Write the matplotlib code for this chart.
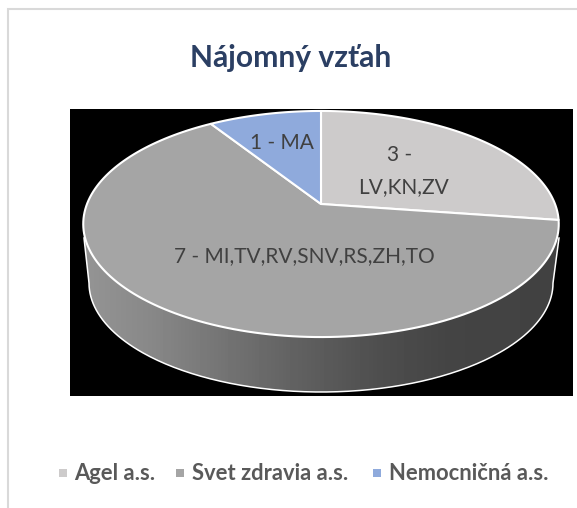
import numpy as np
import matplotlib.pyplot as plt
from matplotlib.patches import Polygon, Rectangle

plt.rcParams['font.family'] = ['Lato', 'DejaVu Sans']

title = 'Nájomný vzťah'
companies = ['Agel a.s.', 'Svet zdravia a.s.', 'Nemocničná a.s.']
counts = [3, 7, 1]
colors = ['#cdcbcb', '#a5a5a5', '#8faadc']
GREY_TEXT = '#404040'
LEGEND_TEXT = '#595959'


def project(angle):
    # tilted disc: angle runs clockwise from the top, result is in pixels
    x = np.sin(angle)
    y = np.cos(angle)
    w = 1 + 0.177 * y
    return 321 + 234 * x / w, (204 - 73.4 * y) / w


fig = plt.figure(figsize=(5.77, 5.08), dpi=100)
ax = fig.add_axes([0, 0, 1, 1])
ax.set_xlim(0, 577)
ax.set_ylim(508, 0)
ax.axis('off')

# chart frame, only the top and left edges are in the crop
ax.plot([577, 8, 8], [9, 9, 508], color='#d9d9d9', lw=1.5, solid_joinstyle='miter')
ax.add_patch(Rectangle((70, 109), 503, 287, color='black', lw=0))

# side wall with its left to right shading
t = np.linspace(-np.pi / 2, np.pi / 2, 200)
low_x = 321 + 232 * np.sin(t)
low_y = 283 + 109 * np.cos(t)
wall_x = np.concatenate([[84], low_x, [559]])
wall_y = np.concatenate([[238], low_y, [238]])
wall = Polygon(np.column_stack([wall_x, wall_y]), closed=True, color='none')
ax.add_patch(wall)
stops_x = [85, 150, 230, 300, 380, 450, 560]
stops_v = [0x94, 0x88, 0x72, 0x60, 0x4e, 0x44, 0x42]
shade = np.interp(np.arange(84, 560), stops_x, stops_v) / 255
img = ax.imshow(shade[np.newaxis, :], extent=[84, 560, 396, 200], cmap='gray',
                vmin=0, vmax=1, aspect='auto', zorder=2)
img.set_clip_path(wall)
ax.set_xlim(0, 577)
ax.set_ylim(508, 0)
ax.plot(wall_x, wall_y, color='white', lw=1.1, zorder=3)

# top face, slices go clockwise from 12 o'clock
edges = np.concatenate([[0], np.cumsum(counts)]) / sum(counts) * 2 * np.pi
for start, end, col in zip(edges[:-1], edges[1:], colors):
    a = np.linspace(start, end, 150)
    px, py = project(a)
    pts = np.column_stack([np.r_[321, px], np.r_[204, py]])
    ax.add_patch(Polygon(pts, closed=True, facecolor=col, edgecolor='white',
                         lw=1.5, joinstyle='round', zorder=4))

ax.text(291, 58, title, color='#2b3f63', fontsize=21.6, fontweight='bold',
        ha='center', va='center')

ax.text(282, 143, '1 - MA', color=GREY_TEXT, fontsize=15, ha='center', va='center', zorder=5)
ax.text(400, 155, '3 -', color=GREY_TEXT, fontsize=15, ha='center', va='center', zorder=5)
ax.text(404, 187, 'LV,KN,ZV', color=GREY_TEXT, fontsize=15, ha='center', va='center', zorder=5)
ax.text(304, 256, '7 - MI,TV,RV,SNV,RS,ZH,TO', color=GREY_TEXT, fontsize=15,
        ha='center', va='center', zorder=5)

# legend
marker_x = [63, 180, 377]
label_x = [74, 192, 389]
for name, col, mx, lx in zip(companies, colors, marker_x, label_x):
    ax.scatter([mx], [473], marker='s', s=30, color=col, linewidths=0)
    ax.text(lx, 473, name, color=LEGEND_TEXT, fontsize=15.8, fontweight='bold', va='center')

fig.savefig('out.png', dpi=100)
